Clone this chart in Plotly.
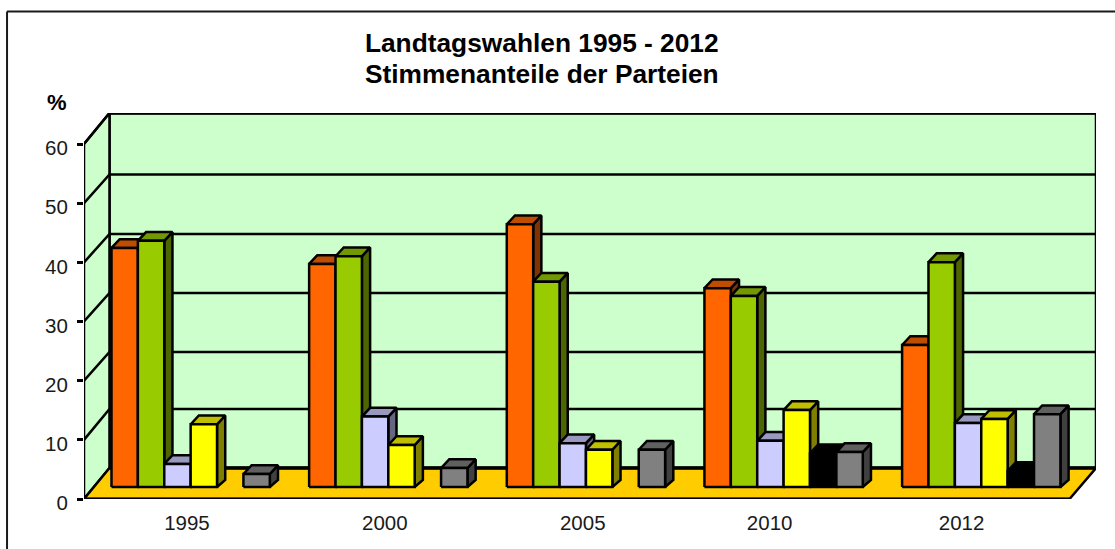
import plotly.graph_objects as go

# ---- data ----
years = ["1995", "2000", "2005", "2010", "2012"]
orange = [40.4, 37.7, 44.4, 33.6, 24.0]
green = [41.6, 39.0, 34.7, 32.3, 38.0]
lilac = [3.9, 11.9, 7.4, 7.8, 10.8]
yellow = [10.6, 7.1, 6.3, 13.0, 11.5]
black = [None, None, None, 5.7, 2.7]
gray = [2.2, 3.2, 6.3, 5.9, 12.3]
y_ticks = [0, 10, 20, 30, 40, 50, 60]

series = [
    ("Serie 1", orange, "#FF6600", "#BF4D00", "#7F3300"),
    ("Serie 2", green, "#99CC00", "#739900", "#4D6600"),
    ("Serie 3", lilac, "#CCCCFF", "#9999BF", "#666680"),
    ("Serie 4", yellow, "#FFFF00", "#BFBF00", "#808000"),
    ("Serie 5", black, "#000000", "#000000", "#000000"),
    ("Serie 6", gray, "#808080", "#606060", "#404040"),
]

# ---- figure geometry (pixels of the 1115x549 page) ----
W, H = 1115, 549
L, R, T, B = 84, 1096.5, 113, 499
CAT_PX = 197.75            # one category on the x axis
VAL_PX = 355 / 60          # one percent on the y axis
XMAX = (R - L) / CAT_PX
YMAX = (B - T) / VAL_PX
WALL_DX = (109.5 - L) / CAT_PX
WALL_DY = (B - 468) / VAL_PX
FRONT_R = (1070 - L) / CAT_PX
BAR_X0 = (111.5 - L) / CAT_PX
BAR_W = 26.4 / CAT_PX
BAR_BASE = (B - 487) / VAL_PX
DEPTH_X = 8.2 / CAT_PX
DEPTH_Y = 8.8 / VAL_PX
LW = 2.5
LABEL_POS = [(187 - L) / CAT_PX, (385 - L) / CAT_PX, (583 - L) / CAT_PX,
             (770 - L) / CAT_PX, (962 - L) / CAT_PX]
BACK_GRID_PX = [409, 352, 293, 234, 174.5, 113]


def px(x):
    return (x - L) / (R - L)


def py(y):
    return (B - y) / (B - T)


def poly(xs, ys, fill, line="#000000", width=LW, name=None):
    return go.Scatter(
        x=xs + xs[:1], y=ys + ys[:1], mode="lines", fill="toself", fillcolor=fill,
        line=dict(color=line, width=width), cliponaxis=False, showlegend=False,
        hoverinfo="skip", name=name,
    )


def seg(xs, ys, width=LW):
    return go.Scatter(
        x=xs, y=ys, mode="lines", line=dict(color="#000000", width=width),
        cliponaxis=False, showlegend=False, hoverinfo="skip",
    )


fig = go.Figure()

# walls
fig.add_trace(poly([WALL_DX, XMAX, XMAX, WALL_DX], [WALL_DY, WALL_DY, YMAX, YMAX], "#CCFFCC"))
fig.add_trace(poly([0, WALL_DX, WALL_DX, 0], [0, WALL_DY, YMAX, 60], "#CCFFCC"))
# grid lines: left wall diagonal, then back wall
for v, back_px in zip(y_ticks[1:], BACK_GRID_PX):
    back = (B - back_px) / VAL_PX
    fig.add_trace(seg([0, WALL_DX, XMAX], [v, back, back]))
fig.add_trace(seg([WALL_DX, XMAX], [YMAX, YMAX], width=3.5))
# floor
fig.add_trace(poly([0, WALL_DX, XMAX, FRONT_R], [0, WALL_DY, WALL_DY, 0], "#FFCC00"))
fig.add_trace(seg([0, FRONT_R], [0, 0], width=3))
fig.add_trace(seg([WALL_DX, XMAX], [WALL_DY, WALL_DY], width=3.5))

# bars, painted from left to right so that each one hides its neighbour's side
for i in range(len(years)):
    for j, (name, values, front, top, side) in enumerate(series):
        v = values[i]
        if v is None:
            continue
        x0 = i + BAR_X0 + j * BAR_W
        x1 = x0 + BAR_W
        y0 = BAR_BASE
        y1 = BAR_BASE + v
        fig.add_trace(poly([x1, x1 + DEPTH_X, x1 + DEPTH_X, x1],
                           [y0, y0 + DEPTH_Y * 0.8, y1 + DEPTH_Y, y1], side, name=name))
        fig.add_trace(poly([x0, x0 + DEPTH_X, x1 + DEPTH_X, x1],
                           [y1, y1 + DEPTH_Y, y1 + DEPTH_Y, y1], top, name=name))
        fig.add_trace(poly([x0, x1, x1, x0], [y0, y0, y1, y1], front, name=name))

FONT = "Liberation Sans, Arial, sans-serif"
fig.update_layout(
    width=W, height=H, autosize=False,
    margin=dict(l=L, r=W - R, t=T, b=H - B),
    paper_bgcolor="#FFFFFF", plot_bgcolor="rgba(0,0,0,0)",
    showlegend=False,
    font=dict(family=FONT, color="#000000", size=20.5),
    title=dict(
        text="<b>Landtagswahlen 1995 - 2012</b>",
        x=px(542), xref="paper", xanchor="center",
        y=1 - 43 / H, yref="container", yanchor="middle",
        font=dict(family=FONT, size=26.3, color="#000000"),
    ),
    xaxis=dict(
        range=[0, XMAX], tickmode="array", tickvals=LABEL_POS, ticktext=years,
        ticks="", showgrid=False, zeroline=False, showline=False,
        ticklabelstandoff=9, tickfont=dict(size=20.5, color="#1A1A1A"),
    ),
    yaxis=dict(
        range=[0, YMAX], tickmode="array", tickvals=y_ticks,
        ticks="outside", ticklen=6, tickwidth=2.5, tickcolor="#000000",
        showgrid=False, zeroline=False, showline=False,
        ticklabelstandoff=5, ticklabelshift=4, tickfont=dict(size=20.5, color="#1A1A1A"),
    ),
    annotations=[
        dict(text="<b>Stimmenanteile der Parteien</b>", xref="paper", yref="paper",
             x=px(542), y=py(74), xanchor="center", yanchor="middle", showarrow=False,
             font=dict(family=FONT, size=26.3, color="#000000")),
        dict(text="<b>%</b>", xref="paper", yref="paper", x=px(57), y=py(103),
             xanchor="center", yanchor="middle", showarrow=False,
             font=dict(family=FONT, size=22, color="#000000")),
    ],
    shapes=[
        dict(type="line", xref="paper", yref="paper", x0=px(7), x1=px(W + 5), y0=py(11.5), y1=py(11.5),
             line=dict(color="#1A1A1A", width=2)),
        dict(type="line", xref="paper", yref="paper", x0=px(7), x1=px(7), y0=py(11.5), y1=py(H + 5),
             line=dict(color="#1A1A1A", width=2)),
    ],
)

fig.write_html(
    "out.html",
    config={"displayModeBar": False},
    post_script="document.body.style.margin='0';document.body.style.overflow='hidden';",
)
